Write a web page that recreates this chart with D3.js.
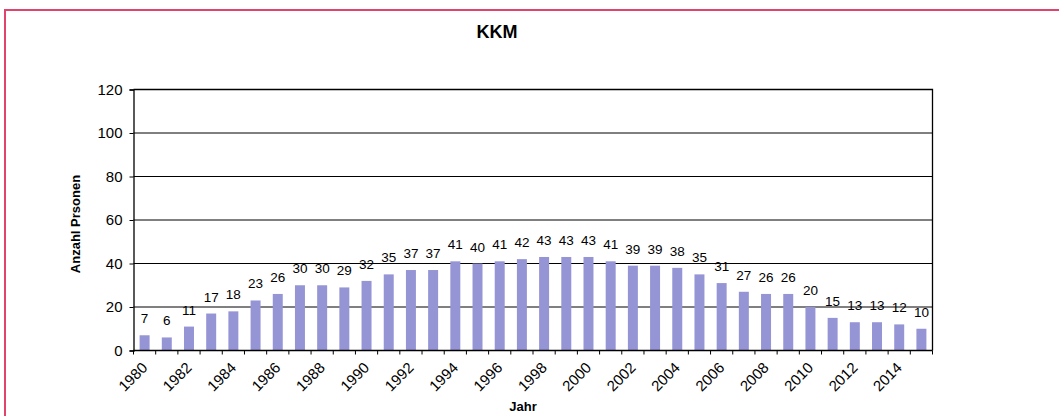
<!DOCTYPE html>
<html>
<head>
<meta charset="utf-8">
<script src="https://cdn.jsdelivr.net/npm/d3@7"></script>
<style>
  body { margin: 0; background: #fff; }
  svg { display: block; font-family: "Liberation Sans", Arial, sans-serif; }
</style>
</head>
<body>
<svg id="chart" width="1059" height="416"></svg>
<script>
// Persons per year
const years = ["1980","1981","1982","1983","1984","1985","1986","1987","1988","1989",
               "1990","1991","1992","1993","1994","1995","1996","1997","1998","1999",
               "2000","2001","2002","2003","2004","2005","2006","2007","2008","2009",
               "2010","2011","2012","2013","2014","2015"];
const persons = [7,6,11,17,18,23,26,30,30,29,
                 32,35,37,37,41,40,41,42,43,43,
                 43,41,39,39,38,35,31,27,26,26,
                 20,15,13,13,12,10];
const yTicks = [0,20,40,60,80,100,120];
const yearLabels = ["1980","1982","1984","1986","1988","1990","1992","1994","1996",
                    "1998","2000","2002","2004","2006","2008","2010","2012","2014"];

const svg = d3.select("#chart");

// outer frame
svg.append("path")
  .attr("d", "M5,416V10H1059")
  .attr("fill", "none")
  .attr("stroke", "#e0446c")
  .attr("stroke-width", 2);

const plotL = 133.5, plotR = 932.5, plotT = 89.5, plotB = 350.5;

const x = d3.scaleBand().domain(years).range([plotL, plotR])
  .paddingInner(0.55).paddingOuter(0.275);
const y = d3.scaleLinear().domain([0, 120]).range([plotB, plotT]);

// gridlines
svg.append("g").selectAll("line")
  .data(yTicks.filter(d => d > 0 && d < 120))
  .join("line")
  .attr("x1", plotL).attr("x2", plotR)
  .attr("y1", d => y(d)).attr("y2", d => y(d))
  .attr("stroke", "#000").attr("stroke-width", 1);

// bars
svg.append("g").selectAll("rect")
  .data(persons)
  .join("rect")
  .attr("x", (d, i) => x(years[i]))
  .attr("width", x.bandwidth())
  .attr("y", d => y(d))
  .attr("height", d => y(0) - y(d))
  .attr("fill", "#9595d6");

// plot frame (top and right)
svg.append("path")
  .attr("d", `M${plotL},${plotT}H${plotR}V${plotB}`)
  .attr("fill", "none")
  .attr("stroke", "#000").attr("stroke-width", 1.3);

// y axis
const yAxis = svg.append("g")
  .attr("transform", `translate(${plotL},0)`)
  .call(d3.axisLeft(y).tickValues(yTicks).tickSize(4).tickPadding(7));
yAxis.select(".domain").attr("stroke", "#000").attr("stroke-width", 1.3);
yAxis.selectAll(".tick line").attr("stroke", "#000");
yAxis.selectAll("text").attr("font-size", 15).attr("fill", "#000")
  .attr("font-family", "'Liberation Sans', Arial, sans-serif");

// x axis baseline with ticks on category boundaries
const xAxisG = svg.append("g");
xAxisG.append("line")
  .attr("x1", plotL).attr("x2", plotR)
  .attr("y1", plotB).attr("y2", plotB)
  .attr("stroke", "#000").attr("stroke-width", 1.3);
const boundaries = d3.range(years.length + 1).map(i => plotL + i * x.step());
xAxisG.selectAll("line.tk")
  .data(boundaries)
  .join("line").attr("class", "tk")
  .attr("x1", d => d).attr("x2", d => d)
  .attr("y1", plotB).attr("y2", plotB + 4)
  .attr("stroke", "#000");

// rotated year labels
xAxisG.selectAll("text")
  .data(yearLabels)
  .join("text")
  .attr("transform", d => `translate(${x(d) + x.bandwidth() / 2},365) rotate(-45)`)
  .attr("text-anchor", "end")
  .attr("dy", "0.35em")
  .attr("font-size", 15)
  .attr("fill", "#000")
  .text(d => d);

// value labels
svg.append("g").selectAll("text")
  .data(persons)
  .join("text")
  .attr("x", (d, i) => x(years[i]) + x.bandwidth() / 2)
  .attr("y", d => y(d) - 12)
  .attr("text-anchor", "middle")
  .attr("font-size", 13.5)
  .attr("fill", "#000")
  .text(d => d);

// titles
svg.append("text")
  .attr("x", 497).attr("y", 38)
  .attr("text-anchor", "middle")
  .attr("font-size", 18).attr("font-weight", "bold")
  .text("KKM");

svg.append("text")
  .attr("transform", "translate(80,224) rotate(-90)")
  .attr("text-anchor", "middle")
  .attr("font-size", 13).attr("font-weight", "bold")
  .text("Anzahl Prsonen");

svg.append("text")
  .attr("x", 523).attr("y", 411)
  .attr("text-anchor", "middle")
  .attr("font-size", 13).attr("font-weight", "bold")
  .text("Jahr");
</script>
</body>
</html>
